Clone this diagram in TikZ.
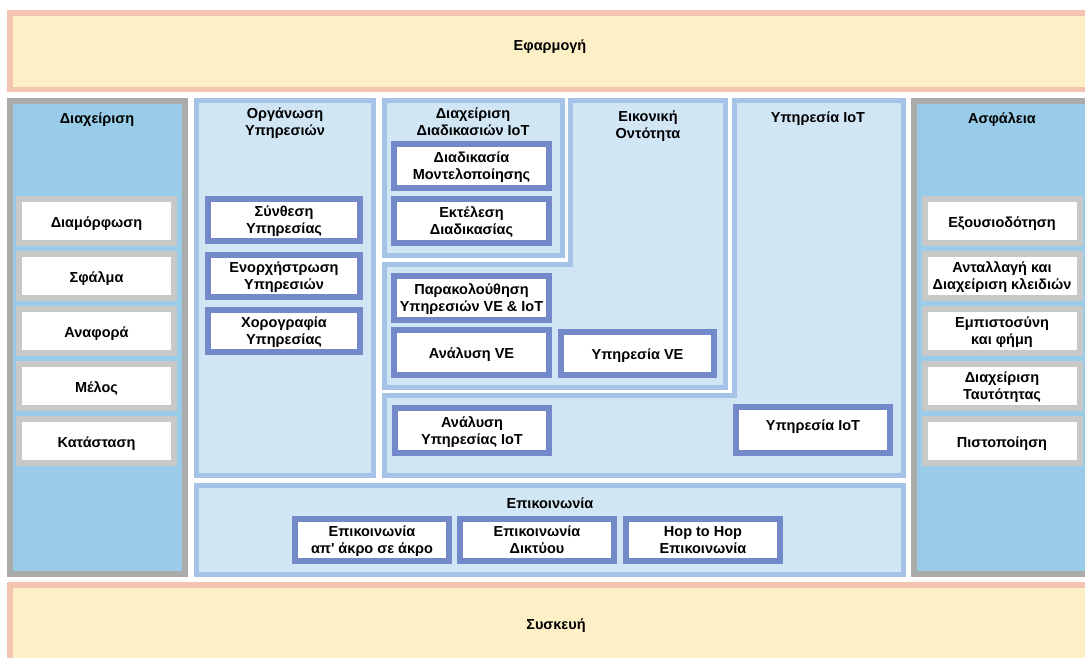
\documentclass[tikz,border=0pt]{standalone}
\usepackage{fontspec}
\setmainfont{Liberation Sans}
\definecolor{yfill}{HTML}{FDEFC6}
\definecolor{yline}{HTML}{F3C5B1}
\definecolor{gline}{HTML}{ABABAB}
\definecolor{skyfill}{HTML}{98CCE8}
\definecolor{gbline}{HTML}{C8C8C8}
\definecolor{lbline}{HTML}{A5C3E6}
\definecolor{lbfill}{HTML}{D1E6F5}
\definecolor{bbline}{HTML}{7489C9}
\begin{document}
\begin{tikzpicture}[x=1pt,y=-1pt,
		every node/.style={font=\bfseries\fontsize{14.5}{17}\selectfont,inner sep=0,outer sep=0,align=center,
			text depth=0pt,execute at begin node={\rule{0pt}{12.5pt}}},
		layer/.style={draw=yline,fill=yfill,line width=5.5pt},
		mgmt/.style={draw=gline,fill=skyfill,line width=6pt},
		sub/.style={draw=lbline,fill=lbfill,line width=5pt},
		gbox/.style={draw=gbline,fill=white,line width=6pt,minimum width=155,minimum height=44},
		bbox/.style={draw=bbline,fill=white,line width=6pt,minimum width=155,minimum height=44}]
		
		\clip (0,0) rectangle (1085,657);
		\fill[white] (0,0) rectangle (1085,657);
		
		% top and bottom layers
		\node[layer,minimum width=1082.5,minimum height=76.5] (app) at (551,51) {};
		\node (apptxt) at (550,44) {Εφαρμογή};
		\node[layer,minimum width=1082.5,minimum height=82.5] (dev) at (551,626) {};
		\node (devtxt) at (556,623) {Συσκευή};
		
		% side panels
		\node[mgmt,minimum width=175,minimum height=473] (mgmt) at (97.5,337.5) {};
		\node (mgmttxt) at (97,117) {Διαχείριση};
		\node[mgmt,minimum width=178,minimum height=473] (sec) at (1003,337.5) {};
		\node (sectxt) at (1002,117) {Ασφάλεια};
		
		\node[gbox] (conf) at (96.5,221) {Διαμόρφωση};
		\node[gbox] (fault) at (96.5,276) {Σφάλμα};
		\node[gbox] (report) at (96.5,331) {Αναφορά};
		\node[gbox] (member) at (96.5,386) {Μέλος};
		\node[gbox] (state) at (96.5,441) {Κατάσταση};
		
		\node[gbox] (authz) at (1002,221) {Εξουσιοδότηση};
		\node[gbox] (keys) at (1002,276) {Ανταλλαγή και\\Διαχείριση κλειδιών};
		\node[gbox] (trust) at (1002,331) {Εμπιστοσύνη\\και φήμη};
		\node[gbox] (ident) at (1002,386) {Διαχείριση\\Ταυτότητας};
		\node[gbox] (authn) at (1002,441) {Πιστοποίηση};
		
		% service organisation
		\node[sub,minimum width=177,minimum height=375] (org) at (285,288) {};
		\node (orgtxt) at (285,122) {Οργάνωση\\Υπηρεσιών};
		\node[bbox,minimum width=152,minimum height=42] (comp) at (284,220) {Σύνθεση\\Υπηρεσίας};
		\node[bbox,minimum width=152,minimum height=42] (orch) at (284,276) {Ενορχήστρωση\\Υπηρεσιών};
		\node[bbox,minimum width=152,minimum height=42] (chor) at (284,331) {Χορογραφία\\Υπηρεσίας};
		
		% process management
		\node[sub,minimum width=178,minimum height=155] (proc) at (473.5,178) {};
		\node (proctxt) at (473,122) {Διαχείριση\\Διαδικασιών IoT};
		\node[bbox] (model) at (471.5,166) {Διαδικασία\\Μοντελοποίησης};
		\node[bbox] (exec) at (471.5,221) {Εκτέλεση\\Διαδικασίας};
		
		% virtual entity
		\draw[sub] (570.5,100.5) -- (725.5,100.5) -- (725.5,387.5) -- (384.5,387.5)
			-- (384.5,264.5) -- (570.5,264.5) -- cycle;
		\node (vetxt) at (648,125) {Εικονική\\Οντότητα};
		\node[bbox] (monitor) at (471.5,298) {Παρακολούθηση\\Υπηρεσιών VE \& IoT};
		\node[bbox,minimum height=45] (veana) at (471.5,352.5) {Ανάλυση VE};
		\node[bbox,minimum width=153,minimum height=43] (veserv) at (637.5,353.5) {Υπηρεσία VE};
		
		% IoT service
		\draw[sub] (734.5,100.5) -- (903.5,100.5) -- (903.5,475.5) -- (384.5,475.5)
			-- (384.5,395.5) -- (734.5,395.5) -- cycle;
		\node (iottxt) at (818,116) {Υπηρεσία IoT};
		\node[bbox,minimum width=154,minimum height=45] (iotana) at (472,430.5) {Ανάλυση\\Υπηρεσίας IoT};
		\node[bbox,minimum width=154,minimum height=46,text depth=12pt] (iotserv) at (813,430) {Υπηρεσία IoT};
		
		% communication
		\node[sub,minimum width=707,minimum height=89] (comm) at (550,530) {};
		\node (commtxt) at (550,502) {Επικοινωνία};
		\node[bbox,minimum width=154,minimum height=42] (e2e) at (372,540) {Επικοινωνία\\απ\textquotesingle{} άκρο σε άκρο};
		\node[bbox,minimum width=154,minimum height=42] (net) at (537,540) {Επικοινωνία\\Δικτύου};
		\node[bbox,minimum width=154,minimum height=42] (hop) at (703,540) {Hop to Hop\\Επικοινωνία};
		
\end{tikzpicture}
\end{document}
